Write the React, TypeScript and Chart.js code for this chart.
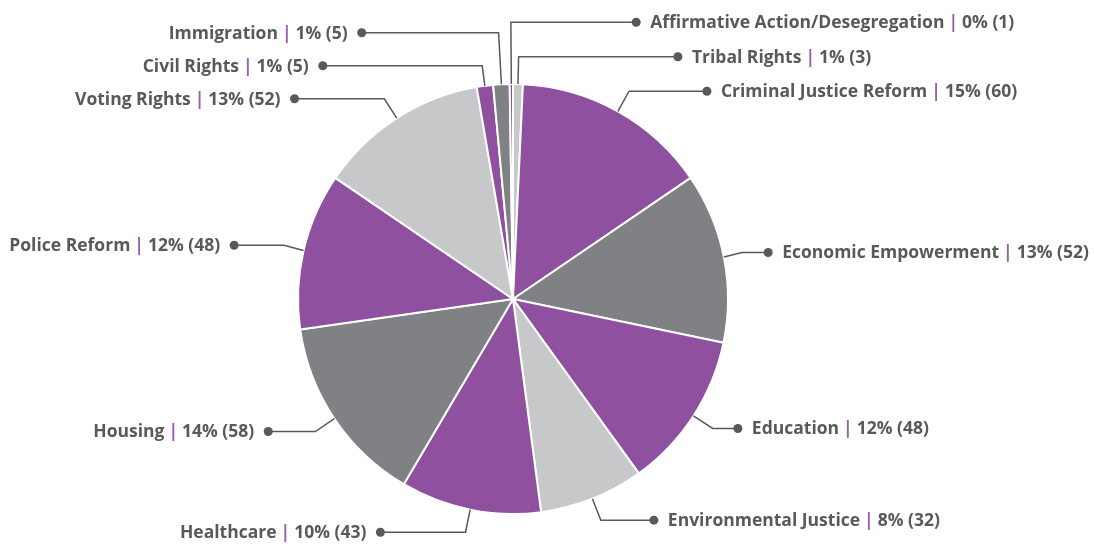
import React, { useEffect, useRef } from 'react';
import { Chart, registerables } from 'chart.js';

Chart.register(...registerables);

const categories = [
  'Tribal Rights',
  'Criminal Justice Reform',
  'Economic Empowerment',
  'Education',
  'Environmental Justice',
  'Healthcare',
  'Housing',
  'Police Reform',
  'Voting Rights',
  'Civil Rights',
  'Immigration',
  'Affirmative Action/Desegregation',
];
const counts = [3, 60, 52, 48, 32, 43, 58, 48, 52, 5, 5, 1];
const percentLabels = ['1%', '15%', '13%', '12%', '8%', '10%', '14%', '12%', '13%', '1%', '1%', '0%'];

const PURPLE = '#8E509F';
const GRAY = '#808184';
const LIGHT = '#C7C8CA';
const sliceColors = [LIGHT, PURPLE, GRAY, PURPLE, LIGHT, PURPLE, GRAY, PURPLE, LIGHT, PURPLE, GRAY, PURPLE];

const TEXT = '#58595B';
const FONT_FAMILY = '"Open Sans", Lato, sans-serif';
const FONT_SIZE = 17.5;

type Item = {
  i: number;
  cx: number;
  cy: number;
  r: number;
  cos: number;
  sin: number;
  right: boolean;
  target: number;
  rank: number;
  y: number;
};

function distribute(items: Item[], spacing: number, minY: number, maxY: number) {
  items.sort((a, b) => a.target - b.target);
  type Cl = { list: Item[]; top: number };
  let clusters: Cl[] = items.map((it) => ({ list: [it], top: it.target }));
  const fit = (c: Cl) => {
    let best = 0;
    c.list.forEach((it, k) => {
      if (it.rank > c.list[best].rank) best = k;
    });
    let top = c.list[best].target - best * spacing;
    const n = c.list.length;
    if (top < minY) top = minY;
    if (top + (n - 1) * spacing > maxY) top = maxY - (n - 1) * spacing;
    c.top = top;
  };
  clusters.forEach(fit);
  let changed = true;
  while (changed) {
    changed = false;
    for (let k = 0; k < clusters.length - 1; k++) {
      const a = clusters[k];
      const b = clusters[k + 1];
      if (a.top + a.list.length * spacing > b.top) {
        const m: Cl = { list: a.list.concat(b.list), top: 0 };
        fit(m);
        clusters.splice(k, 2, m);
        changed = true;
        break;
      }
    }
  }
  clusters.forEach((c) => c.list.forEach((it, k) => (it.y = c.top + k * spacing)));
}

const labelPlugin = {
  id: 'pieLabels',
  afterDraw(chart: any) {
    const meta = chart.getDatasetMeta(0);
    const ctx: CanvasRenderingContext2D = chart.ctx;
    const DIST = 23;
    const items: Item[] = meta.data.map((arc: any, i: number) => {
      const p = arc.getProps(['x', 'y', 'startAngle', 'endAngle', 'outerRadius'], true);
      const mid = (p.startAngle + p.endAngle) / 2;
      const cos = Math.cos(mid);
      const sin = Math.sin(mid);
      return {
        i,
        cx: p.x,
        cy: p.y,
        r: p.outerRadius,
        cos,
        sin,
        right: cos > -0.02,
        target: p.y + (p.outerRadius + DIST) * sin,
        rank: counts[i],
        y: 0,
      };
    });
    const rightItems = items.filter((it) => it.right);
    const leftItems = items.filter((it) => !it.right);
    const H = chart.height;
    distribute(rightItems, 34.5, 19, H - 8);
    distribute(leftItems, 33, 19, H - 8);

    ctx.save();
    const boldFont = `bold ${FONT_SIZE}px ${FONT_FAMILY}`;
    items.forEach((it) => {
      const { cx, cy, r, cos, sin, right } = it;
      const L = it.y;
      const px = cx + r * cos;
      const py = cy + r * sin;
      let t = Math.abs(sin) > 0.05 ? (L - cy) / sin : r + 10;
      if (!(t > r + 4)) t = r + 4;
      if (t > r + 320) t = r + 320;
      let ex = cx + t * cos;
      const maxDx = r + 14;
      if (ex - cx > maxDx) ex = cx + maxDx;
      if (cx - ex > maxDx) ex = cx - maxDx;
      const dy = L - cy;
      const Rx = right ? r + 43 : r + 68;
      const Ry = dy < 0 ? r + 100 : r + 49;
      const q = 1 - (dy / Ry) * (dy / Ry);
      const ell = Rx * Math.sqrt(Math.max(q, 0));
      const dotX = right ? Math.max(ex + 22, cx + ell) : Math.min(ex - 22, cx - ell);

      ctx.strokeStyle = TEXT;
      ctx.lineWidth = 1.5;
      ctx.beginPath();
      ctx.moveTo(px, py);
      ctx.lineTo(ex, L);
      ctx.lineTo(dotX, L);
      ctx.stroke();
      ctx.fillStyle = TEXT;
      ctx.beginPath();
      ctx.arc(dotX, L, 4.5, 0, Math.PI * 2);
      ctx.fill();

      const name = categories[it.i];
      const tail = `${percentLabels[it.i]} (${counts[it.i]})`;
      ctx.font = boldFont;
      const wName = ctx.measureText(name).width;
      const wTail = ctx.measureText(tail).width;
      const wBar = ctx.measureText('|').width;
      const gap = 4;
      const total = wName + gap + wBar + gap + wTail;
      const x0 = right ? dotX + 14 : dotX - 14 - total;
      ctx.textBaseline = 'middle';
      ctx.textAlign = 'left';
      ctx.fillStyle = TEXT;
      ctx.fillText(name, x0, L + 1);
      ctx.fillStyle = '#9B5FB0';
      ctx.fillText('|', x0 + wName + gap, L + 1);
      ctx.fillStyle = TEXT;
      ctx.fillText(tail, x0 + wName + gap + wBar + gap, L + 1);
    });
    ctx.restore();
  },
};

export default function App() {
  const ref = useRef<HTMLCanvasElement | null>(null);
  useEffect(() => {
    if (!ref.current) return;
    const chart = new Chart(ref.current, {
      type: 'pie',
      data: {
        labels: categories,
        datasets: [
          {
            data: counts,
            backgroundColor: sliceColors,
            borderColor: '#ffffff',
            borderWidth: 2,
          },
        ],
      },
      options: {
        responsive: false,
        animation: false,
        layout: { padding: { left: 297, right: 365, top: 83, bottom: 37 } },
        plugins: {
          legend: { display: false },
          tooltip: { enabled: false },
        },
      },
      plugins: [labelPlugin],
    });
    return () => chart.destroy();
  }, []);
  return (
    <div style={{ position: 'fixed', left: 0, top: 0, width: 1094, height: 552, background: '#fff' }}>
      <canvas ref={ref} width={1094} height={552} style={{ width: 1094, height: 552 }} />
    </div>
  );
}
